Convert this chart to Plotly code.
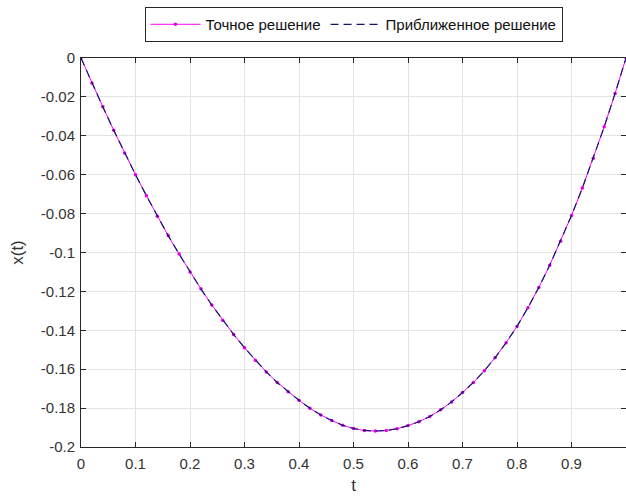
import plotly.graph_objects as go

# t grid (step 0.02)
t_values = [round(i * 0.02, 2) for i in range(51)]

# exact solution
x_exact = [
    0.0, -0.0128, -0.0251, -0.0371, -0.0488,
    -0.0600, -0.0708, -0.0813, -0.0913, -0.1008,
    -0.1100, -0.1187, -0.1270, -0.1348, -0.1421,
    -0.1490, -0.1554, -0.1614, -0.1668, -0.1716,
    -0.1760, -0.1801, -0.1835, -0.1864, -0.1888,
    -0.1905, -0.1915, -0.1918, -0.1915, -0.1906,
    -0.1890, -0.1870, -0.1843, -0.1809, -0.1768,
    -0.1720, -0.1668, -0.1608, -0.1540, -0.1464,
    -0.1380, -0.1284, -0.1180, -0.1066, -0.0942,
    -0.0810, -0.0668, -0.0516, -0.0354, -0.0182,
    0.0,
]

# approximate solution (visually identical to the exact one)
x_approx = [
    0.0, -0.0128, -0.0251, -0.0371, -0.0488,
    -0.0600, -0.0708, -0.0813, -0.0913, -0.1008,
    -0.1100, -0.1187, -0.1270, -0.1348, -0.1421,
    -0.1490, -0.1554, -0.1614, -0.1668, -0.1716,
    -0.1760, -0.1801, -0.1835, -0.1864, -0.1888,
    -0.1905, -0.1915, -0.1918, -0.1915, -0.1906,
    -0.1890, -0.1870, -0.1843, -0.1809, -0.1768,
    -0.1720, -0.1668, -0.1608, -0.1540, -0.1464,
    -0.1380, -0.1284, -0.1180, -0.1066, -0.0942,
    -0.0810, -0.0668, -0.0516, -0.0354, -0.0182,
    0.0,
]

x_tickvals = [0, 0.1, 0.2, 0.3, 0.4, 0.5, 0.6, 0.7, 0.8, 0.9, 1]
x_ticktext = ["0", "0.1", "0.2", "0.3", "0.4", "0.5", "0.6", "0.7", "0.8", "0.9", "1"]
y_tickvals = [0, -0.02, -0.04, -0.06, -0.08, -0.1, -0.12, -0.14, -0.16, -0.18, -0.2]
y_ticktext = ["0", "-0.02", "-0.04", "-0.06", "-0.08", "-0.1", "-0.12", "-0.14", "-0.16", "-0.18", "-0.2"]

FONT = "Liberation Sans, Arial, sans-serif"
AX = "#262626"
GRID = "#e3e3e3"
TXT = "#333333"

fig = go.Figure()
fig.add_trace(go.Scatter(
    x=t_values, y=x_exact, mode="lines+markers",
    name="Точное решение",
    line=dict(color="#ff00ff", width=1),
    marker=dict(color="#e000e0", size=3.5),
))
fig.add_trace(go.Scatter(
    x=t_values, y=x_approx, mode="lines",
    name="Приближенное решение",
    line=dict(color="#14146e", width=1.2, dash="8px,5px"),
))

fig.update_layout(
    width=626, height=497,
    margin=dict(l=81, r=0, t=58, b=50),
    paper_bgcolor="white", plot_bgcolor="white",
    font=dict(family=FONT, color=AX, size=15),
    showlegend=True,
    legend=dict(
        orientation="h", x=0.5, xanchor="center", y=1.131, yanchor="top",
        bgcolor="white", bordercolor=AX, borderwidth=1,
        font=dict(size=15, color="#111111"),
        itemwidth=50,
    ),
    xaxis=dict(
        range=[0, 1], tickvals=x_tickvals, ticktext=x_ticktext,
        ticks="inside", ticklen=5, tickcolor=AX,
        showline=True, linecolor=AX, linewidth=1, mirror="ticks",
        showgrid=True, gridcolor=GRID, gridwidth=1, zeroline=False,
        tickfont=dict(size=15, color=TXT), ticklabelstandoff=3,
        title=dict(text="t", font=dict(size=17, color=TXT), standoff=8),
    ),
    yaxis=dict(
        range=[-0.2, 0], tickvals=y_tickvals, ticktext=y_ticktext,
        ticks="inside", ticklen=5, tickcolor=AX,
        showline=True, linecolor=AX, linewidth=1, mirror="ticks",
        showgrid=True, gridcolor=GRID, gridwidth=1, zeroline=False,
        tickfont=dict(size=15, color=TXT), ticklabelstandoff=2,
        title=dict(text="x(t)", font=dict(size=17, color=TXT), standoff=12),
    ),
)

# remove the default 8px page margin so the figure fills the window exactly
fig.write_html(
    "out.html",
    config={"displayModeBar": False},
    post_script="document.body.style.margin='0';document.body.style.overflow='hidden';",
)
